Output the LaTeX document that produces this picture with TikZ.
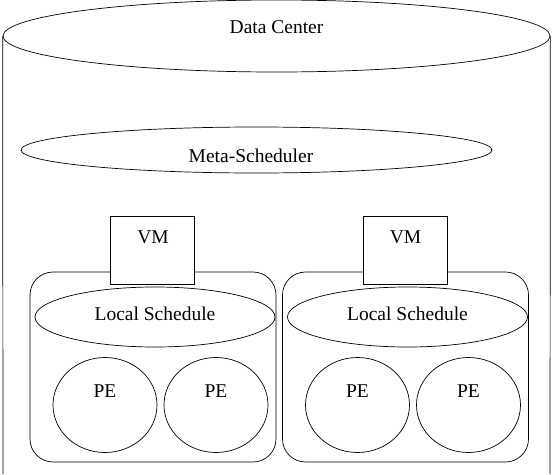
\documentclass[tikz,border=0pt]{standalone}
\usepackage{fontspec}
\setmainfont{Liberation Serif}
\usetikzlibrary{shapes.geometric}
\begin{document}
\begin{tikzpicture}[x=1pt,y=-1pt,line width=0.7pt,
    lbl/.style={anchor=base,inner sep=0pt,font=\fontsize{19.5}{22}\selectfont},
    oval/.style={draw,ellipse,inner sep=0pt},
    hostbox/.style={draw,rounded corners=23pt,minimum width=246pt,minimum height=190pt},
    vmbox/.style={draw,fill=white,minimum width=84pt,minimum height=68pt}]
    \useasboundingbox (0,0) rectangle (554,474);

    % data center drum
    \node[oval,minimum width=547pt,minimum height=72pt] (dc) at (276.5,36) {};
    \coordinate (dcL) at (3,474);
    \coordinate (dcR) at (550,474);
    \draw (dc.west) -- (dcL);
    \draw (dc.east) -- (dcR);
    \node[lbl] (dcText) at (276.5,33) {Data Center};

    \node[oval,minimum width=471pt,minimum height=46pt] (meta) at (256.5,150) {};
    \node[lbl] (metaText) at (251,162) {Meta-Scheduler};

    % two hosts
    \foreach \h/\dx in {1/0,2/252.5} {
        \begin{scope}[xshift=\dx pt]
            \node[hostbox] (host\h) at (153,367) {};
            \node[vmbox] (vm\h) at (152.5,250) {};
            \node[lbl] (vmText\h) at (153,243) {VM};
            \node[oval,minimum width=240pt,minimum height=60pt] (ls\h) at (155,317) {};
            \node[lbl] (lsText\h) at (155,320) {Local Schedule};
            \node[oval,minimum width=104pt,minimum height=95pt] (peA\h) at (105,405) {};
            \node[oval,minimum width=104pt,minimum height=95pt] (peB\h) at (216,405) {};
            \node[lbl] (peTextA\h) at (105,397) {PE};
            \node[lbl] (peTextB\h) at (216,397) {PE};
        \end{scope}
    }
\end{tikzpicture}
\end{document}
